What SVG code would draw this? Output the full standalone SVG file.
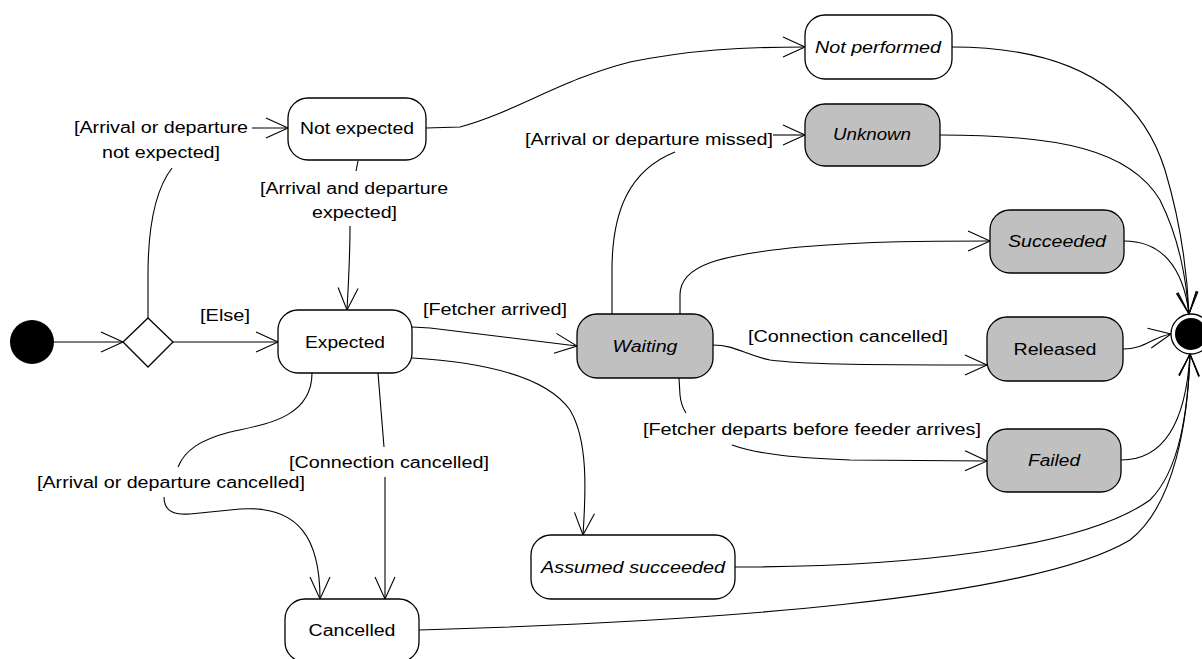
<svg xmlns="http://www.w3.org/2000/svg" width="1202" height="659" viewBox="0 0 1202 659">
<style>
.st{fill:#fff;stroke:#000;stroke-width:1.3}
.gr{fill:#c0c0c0;stroke:#000;stroke-width:1.3}
text{font-family:"Liberation Sans",Arial,sans-serif;font-size:16px;fill:#000}
.c{text-anchor:middle}
.i{font-style:italic}
.e{fill:none;stroke:#000;stroke-width:1.1}
</style>
<defs>
<marker id="arr" viewBox="-24 -12 26 24" refX="0" refY="0" markerWidth="26" markerHeight="24" orient="auto" markerUnits="userSpaceOnUse">
<path d="M-22,-10 L0,0 L-22,10" fill="none" stroke="#000" stroke-width="1.1"/>
</marker>
</defs>
<rect width="1202" height="659" fill="#fff"/>

<g id="connectors">
<path class="e" d="M54,342 L123,342" marker-end="url(#arr)"/>
<path class="e" d="M173,342 L278,342" marker-end="url(#arr)"/>
<text x="200" y="321" textLength="50" lengthAdjust="spacingAndGlyphs">[Else]</text>

<path class="e" d="M148,318 L148,275 C148,225 155,190 172,168"/>
<path class="e" d="M252,128 L288,128" marker-end="url(#arr)"/>
<text x="74" y="133" textLength="174" lengthAdjust="spacingAndGlyphs">[Arrival or departure</text>
<text x="102" y="158" textLength="118" lengthAdjust="spacingAndGlyphs">not expected]</text>

<path class="e" d="M358,161 L356,171"/>
<path class="e" d="M350,226 C350,260 348,290 347,310" marker-end="url(#arr)"/>
<text x="260" y="194" textLength="188" lengthAdjust="spacingAndGlyphs">[Arrival and departure</text>
<text x="312" y="218" textLength="85" lengthAdjust="spacingAndGlyphs">expected]</text>

<path class="e" d="M426,128 L460,127 C520,110 560,80 630,62 C690,50 740,47 805,47" marker-end="url(#arr)"/>

<path class="e" d="M412,327 L430,328 L577,346" marker-end="url(#arr)"/>
<text x="423" y="315" textLength="144" lengthAdjust="spacingAndGlyphs">[Fetcher arrived]</text>

<path class="e" d="M412,358 C480,362 545,375 570,410 C588,440 586,490 583,535" marker-end="url(#arr)"/>

<path class="e" d="M378,373 L384,447"/>
<path class="e" d="M385,477 L385,599" marker-end="url(#arr)"/>
<text x="289" y="468" textLength="200" lengthAdjust="spacingAndGlyphs">[Connection cancelled]</text>

<path class="e" d="M312,373 C312,420 260,425 230,432 C200,440 185,450 178,467"/>
<path class="e" d="M164,497 C164,512 175,515 190,514 L240,509 C300,505 320,540 320,599" marker-end="url(#arr)"/>
<text x="37" y="488" textLength="268" lengthAdjust="spacingAndGlyphs">[Arrival or departure cancelled]</text>

<path class="e" d="M612,314 L612,270 C612,210 630,170 675,152"/>
<path class="e" d="M773,135 L805,135" marker-end="url(#arr)"/>
<text x="525" y="145" textLength="248" lengthAdjust="spacingAndGlyphs">[Arrival or departure missed]</text>

<path class="e" d="M680,314 L680,295 C680,265 720,255 800,247 C870,241 930,241 990,241" marker-end="url(#arr)"/>

<path class="e" d="M713,345 C735,345 745,355 770,360 C800,364 850,365 987,365" marker-end="url(#arr)"/>
<text x="748" y="342" textLength="200" lengthAdjust="spacingAndGlyphs">[Connection cancelled]</text>

<path class="e" d="M679,378 L680,395 C681,405 684,410 686,413"/>
<path class="e" d="M732,445 C760,455 800,458 850,460 L987,461" marker-end="url(#arr)"/>
<text x="643" y="435" textLength="338" lengthAdjust="spacingAndGlyphs">[Fetcher departs before feeder arrives]</text>

<path class="e" d="M952,47 C1070,47 1140,90 1165,170 C1180,220 1187,270 1189,314" marker-end="url(#arr)"/>
<path class="e" d="M940,135 C1060,135 1130,150 1160,200 C1180,240 1186,280 1189,314" marker-end="url(#arr)"/>
<path class="e" d="M1124,241 C1160,241 1183,265 1189,314" marker-end="url(#arr)"/>
<path class="e" d="M1123,349 C1145,349 1150,338 1171,334" marker-end="url(#arr)"/>
<path class="e" d="M1121,460 C1165,460 1186,420 1190,354" marker-end="url(#arr)"/>
<path class="e" d="M735,567 C900,567 1080,550 1150,500 C1180,470 1188,410 1190,354" marker-end="url(#arr)"/>
<path class="e" d="M419,630 C700,622 1030,600 1130,540 C1175,505 1188,420 1190,354" marker-end="url(#arr)"/>
</g>

<g id="initial"><circle cx="32" cy="342" r="22" fill="#000"/></g>
<g id="decision"><path class="st" d="M148,318 L173,342 L148,367 L123,342 Z"/></g>
<g id="final"><circle cx="1191" cy="334" r="20" fill="#fff" stroke="#000" stroke-width="1.3"/><circle cx="1191" cy="334" r="16" fill="#000"/></g>

<g id="not-expected"><rect class="st" x="288" y="98" width="138" height="62" rx="20"/><text class="c" x="357" y="134" textLength="114" lengthAdjust="spacingAndGlyphs">Not expected</text></g>
<g id="expected"><rect class="st" x="278" y="310" width="134" height="63" rx="20"/><text class="c" x="345" y="348" textLength="80" lengthAdjust="spacingAndGlyphs">Expected</text></g>
<g id="not-performed"><rect class="st" x="805" y="15" width="147" height="64" rx="20"/><text class="c i" x="878" y="53" textLength="126" lengthAdjust="spacingAndGlyphs">Not performed</text></g>
<g id="unknown"><rect class="gr" x="805" y="104" width="135" height="62" rx="20"/><text class="c i" x="872" y="140" textLength="78" lengthAdjust="spacingAndGlyphs">Unknown</text></g>
<g id="waiting"><rect class="gr" x="577" y="314" width="136" height="64" rx="20"/><text class="c i" x="645" y="352" textLength="65" lengthAdjust="spacingAndGlyphs">Waiting</text></g>
<g id="succeeded"><rect class="gr" x="990" y="210" width="134" height="63" rx="20"/><text class="c i" x="1057" y="247" textLength="98" lengthAdjust="spacingAndGlyphs">Succeeded</text></g>
<g id="released"><rect class="gr" x="987" y="317" width="136" height="64" rx="20"/><text class="c" x="1055" y="355" textLength="83" lengthAdjust="spacingAndGlyphs">Released</text></g>
<g id="failed"><rect class="gr" x="987" y="429" width="134" height="63" rx="20"/><text class="c i" x="1054" y="466" textLength="52" lengthAdjust="spacingAndGlyphs">Failed</text></g>
<g id="assumed-succeeded"><rect class="st" x="531" y="535" width="204" height="64" rx="20"/><text class="c i" x="633" y="573" textLength="184" lengthAdjust="spacingAndGlyphs">Assumed succeeded</text></g>
<g id="cancelled"><rect class="st" x="285" y="599" width="134" height="63" rx="20"/><text class="c" x="352" y="636" textLength="87" lengthAdjust="spacingAndGlyphs">Cancelled</text></g>
</svg>
